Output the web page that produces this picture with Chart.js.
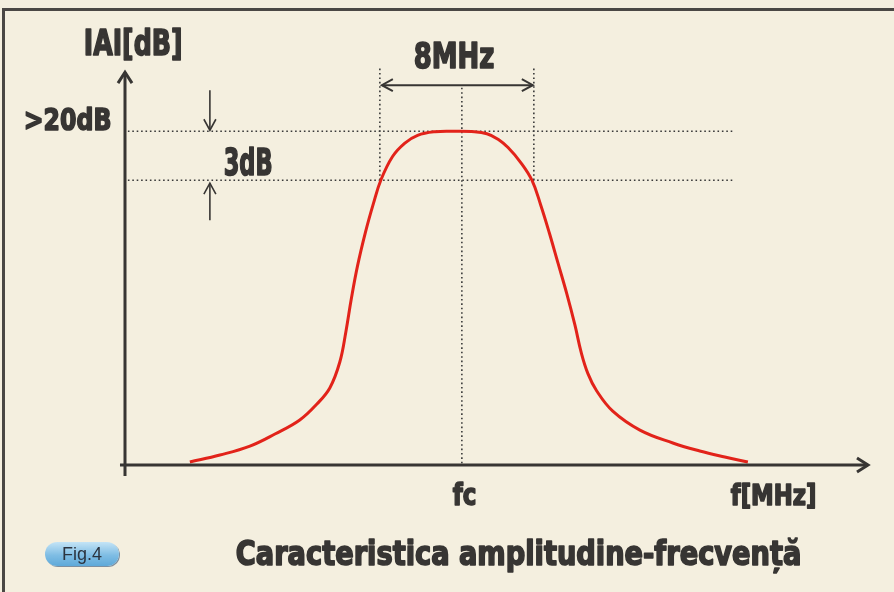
<!DOCTYPE html>
<html>
<head>
<meta charset="utf-8">
<title>Caracteristica amplitudine-frecvență</title>
<script src="https://cdn.jsdelivr.net/npm/chart.js@4"></script>
<style>
  html, body { margin: 0; padding: 0; background: #f4efdf; overflow: hidden; }
  #wrap { position: relative; width: 894px; height: 592px; overflow: hidden; }
  #fig {
    position: absolute; left: 45px; top: 542px; width: 74px; height: 24px;
    border-radius: 12px; z-index: 2;
    background: linear-gradient(#c4e4f6, #7fbde4 55%, #5ea9d9);
    box-shadow: 1px 1px 0 #7d8fa0;
    font: 18px "Liberation Sans", Arial, sans-serif; color: #2b3440;
    text-align: center; line-height: 24px;
  }
  canvas { position: absolute; left: 0; top: 0; }
</style>
</head>
<body>
<div id="wrap">
  <canvas id="bandChart" width="894" height="592"></canvas>
  <div id="fig">Fig.4</div>
</div>
<script>
// Curba de raspuns (x: MHz fata de fc, y: dB)
const freqOffsets = [-14.13, -12.57, -11.01, -9.71, -8.42, -7.53, -6.86, -6.34, -6.02, -5.74,
  -5.42, -5.0, -4.6, -4.21, -3.6, -2.96, -2.3, -1.4, -0.4, 0.5,
  1.3, 1.9, 2.4, 3.05, 3.64, 4.10, 4.55, 5.0, 5.45, 5.87,
  6.2, 6.55, 7.0, 7.84, 9.25, 10.96, 12.36, 13.66, 14.86];
const gainDb = [0.18, 0.61, 1.16, 1.90, 2.76, 3.74, 4.72, 6.31, 8.2, 10.2,
  12.2, 14.3, 16.0, 17.45, 18.9, 19.72, 20.2, 20.42, 20.45, 20.43,
  20.3, 19.95, 19.45, 18.55, 17.45, 15.92, 14.2, 12.35, 10.5, 8.6,
  6.9, 5.6, 4.55, 3.3, 2.14, 1.35, 0.86, 0.49, 0.18];

// Nivele si frecvente de referinta
const peakLevel = 20.45;
const cutLevel = 17.45;          // -3dB
const bandEdges = [-4.26, 3.74]; // 8MHz
const centerFreq = 0;            // fc
const refLineX = [-17.35, 14.1];
const markTop = 24.43;
const spanLevel = 23.27;

const xRange = [-17.5, 21.1];
const yRange = [0, 25];

const labelY = 'IAI[dB]';
const labelX = 'f[MHz]';
const labelPeak = '>20dB';
const label3db = '3dB';
const labelBand = '8MHz';
const labelFc = 'fc';
const title = 'Caracteristica amplitudine-frecvență';

const ink = '#373533';
const dotted = { borderColor: '#3a3a3a', borderWidth: 1.6, borderDash: [1.6, 2.8], pointRadius: 0, fill: false, tension: 0 };

function arrowHead(ctx, x1, y1, x2, y2, len, half) {
  const a = Math.atan2(y2 - y1, x2 - x1);
  ctx.beginPath();
  ctx.moveTo(x2 - len * Math.cos(a) + half * Math.sin(a), y2 - len * Math.sin(a) - half * Math.cos(a));
  ctx.lineTo(x2, y2);
  ctx.lineTo(x2 - len * Math.cos(a) - half * Math.sin(a), y2 - len * Math.sin(a) + half * Math.cos(a));
  ctx.stroke();
}

function arrow(ctx, x1, y1, x2, y2, width, len, half, both) {
  ctx.lineWidth = width;
  ctx.beginPath();
  ctx.moveTo(x1, y1);
  ctx.lineTo(x2, y2);
  ctx.stroke();
  arrowHead(ctx, x1, y1, x2, y2, len, half);
  if (both) arrowHead(ctx, x2, y2, x1, y1, len, half);
}

// text ingustat la latimea dorita (font condensat, ingrosat)
function squeezeText(ctx, text, left, baseline, size, width) {
  ctx.font = `bold ${size}px "Liberation Sans Narrow", "DejaVu Sans Condensed", "Liberation Sans", sans-serif`;
  const w = ctx.measureText(text).width + 1.6;
  ctx.save();
  ctx.translate(left + 0.8, baseline);
  ctx.scale(width / w, 1);
  ctx.lineJoin = 'round';
  ctx.lineWidth = 1.6;
  ctx.strokeText(text, 0, 0);
  ctx.fillText(text, 0, 0);
  ctx.restore();
}

// chenarul paginii (sus si stanga)
const framePlugin = {
  id: 'frame',
  beforeDraw(chart) {
    const ctx = chart.ctx;
    ctx.save();
    ctx.fillStyle = '#4a4744';
    ctx.fillRect(2, 8, chart.width, 3);
    ctx.fillRect(2, 8, 3, chart.height);
    ctx.restore();
  }
};

const decorPlugin = {
  id: 'decor',
  afterDatasetsDraw(chart) {
    const ctx = chart.ctx;
    const xs = chart.scales.x;
    const ys = chart.scales.y;
    const px = v => xs.getPixelForValue(v);
    const py = v => ys.getPixelForValue(v);

    ctx.save();
    ctx.strokeStyle = ink;
    ctx.fillStyle = ink;
    ctx.lineCap = 'butt';

    // axe
    arrow(ctx, px(xRange[0]), py(-0.67), px(xRange[0]), py(24.07), 3, 11, 7, false);
    arrow(ctx, px(-17.76), py(0), px(xRange[1]), py(0), 3, 11, 7, false);

    // 8MHz
    arrow(ctx, px(bandEdges[0]) + 2, py(spanLevel), px(bandEdges[1]) - 1, py(spanLevel), 2, 11, 6, true);

    // sageti 3dB
    const ax = px(-13.09);
    arrow(ctx, ax, py(22.96), ax, py(peakLevel) - 1, 1.6, 11, 6, false);
    arrow(ctx, ax, py(15.0), ax, py(cutLevel) + 3, 1.6, 11, 6, false);

    // texte
    ctx.textBaseline = 'alphabetic';
    squeezeText(ctx, labelY, px(xRange[0]) - 42, 55, 35, 100);
    squeezeText(ctx, labelPeak, 23, py(peakLevel) - 1, 31, 89);
    squeezeText(ctx, label3db, ax + 13, py(cutLevel) - 5, 38, 50);
    squeezeText(ctx, labelBand, px(centerFreq) - 49, 68, 35, 82);
    squeezeText(ctx, labelFc, px(centerFreq) - 10, 505, 31, 25);
    squeezeText(ctx, labelX, 730, 505, 29, 87);
    squeezeText(ctx, title, 235, 565, 33, 567);
    ctx.restore();
  }
};

const curvePoints = freqOffsets.map((f, i) => ({ x: f, y: gainDb[i] }));

new Chart(document.getElementById('bandChart'), {
  type: 'line',
  data: {
    datasets: [
      { data: curvePoints, borderColor: '#e2231a', borderWidth: 3, pointRadius: 0, fill: false, tension: 0.4 },
      { data: [{ x: refLineX[0], y: peakLevel }, { x: refLineX[1], y: peakLevel }], ...dotted },
      { data: [{ x: refLineX[0], y: cutLevel }, { x: refLineX[1], y: cutLevel }], ...dotted },
      { data: [{ x: bandEdges[0], y: cutLevel }, { x: bandEdges[0], y: markTop }], ...dotted },
      { data: [{ x: bandEdges[1], y: cutLevel }, { x: bandEdges[1], y: markTop }], ...dotted },
      { data: [{ x: centerFreq, y: 0.1 }, { x: centerFreq, y: spanLevel }], ...dotted }
    ]
  },
  options: {
    responsive: false,
    animation: false,
    layout: { padding: { left: 125, right: 26, top: 57, bottom: 127 } },
    plugins: { legend: { display: false }, tooltip: { enabled: false } },
    scales: {
      x: { type: 'linear', min: xRange[0], max: xRange[1], display: false },
      y: { type: 'linear', min: yRange[0], max: yRange[1], display: false }
    },
    datasets: { line: { clip: false } }
  },
  plugins: [framePlugin, decorPlugin]
});
</script>
</body>
</html>
